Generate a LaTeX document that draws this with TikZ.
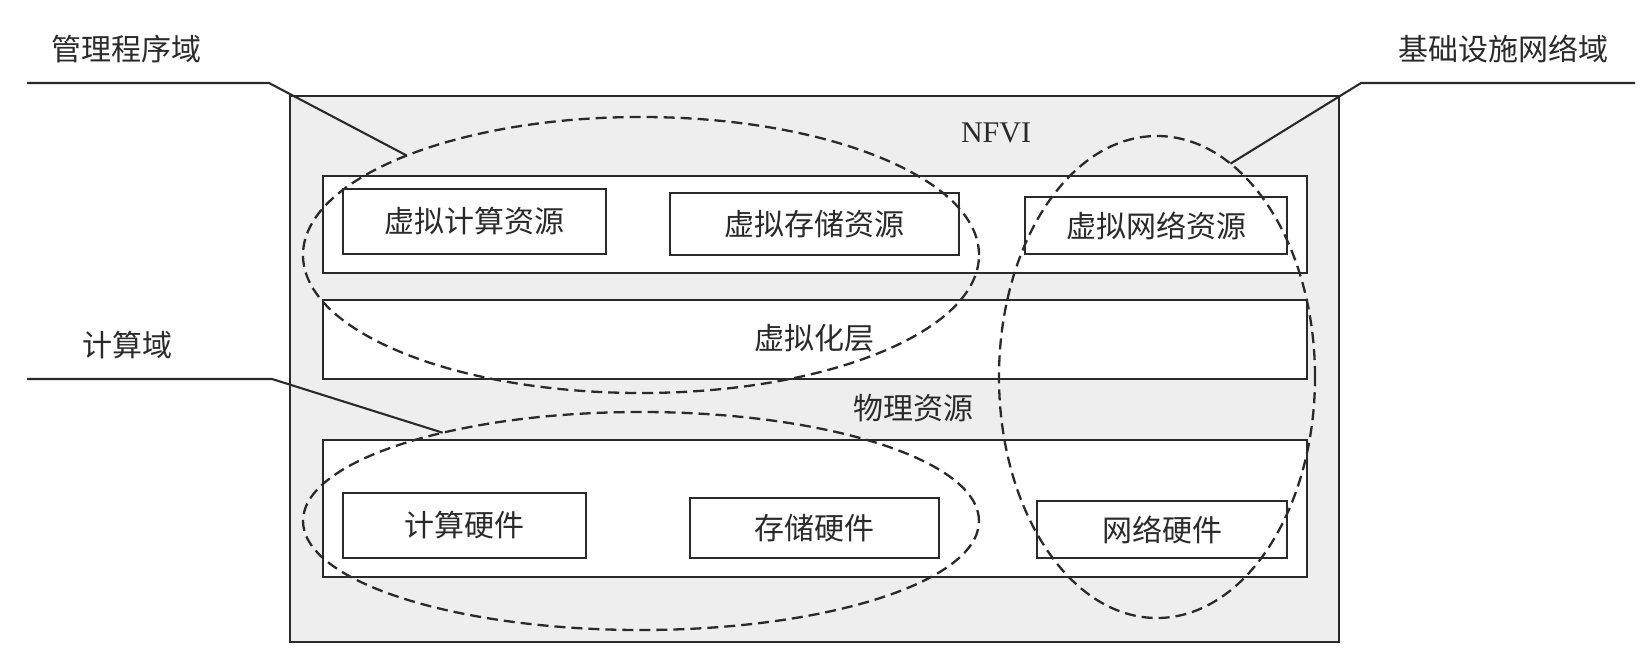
\documentclass[tikz,border=0pt]{standalone}
\usepackage{fontspec}
\setmainfont{Liberation Serif}
\newfontfamily\cjk{Noto Sans CJK SC}
\usetikzlibrary{shapes.geometric}
\definecolor{bggray}{HTML}{EEEEEE}
\definecolor{ink}{HTML}{2A2A2A}
\begin{document}
\begin{tikzpicture}[x=1pt,y=-1pt,
  box/.style={draw=ink, line width=2.1pt, fill=white, rectangle, inner sep=0pt},
  txt/.style={font=\cjk\fontsize{30}{36}\selectfont, text=ink, inner sep=0pt},
  dom/.style={draw=ink, line width=2.3pt, dash pattern=on 11pt off 6pt, ellipse, inner sep=0pt, outer sep=0pt},
  leader/.style={draw=ink, line width=2.1pt}]
\useasboundingbox (0,0) rectangle (1652,650);
% outer NFVI frame
\node[box, fill=bggray, minimum width=1049pt, minimum height=546pt] (nfvi) at (814.5,369) {};
\node[font=\fontsize{30}{36}\selectfont, text=ink, inner sep=0pt] (nfvit) at (996,133) {NFVI};
% rows
\node[box, minimum width=984pt, minimum height=97pt] (vrow) at (815,224.5) {};
\node[box, minimum width=984pt, minimum height=79pt] (vlayer) at (815,339.5) {};
\node[box, minimum width=984pt, minimum height=137pt] (prow) at (815,508.5) {};
\node[txt] (vlayert) at (814,338) {虚拟化层};
\node[txt] (physt) at (913,408) {物理资源};
% virtual resources
\node[box, txt, minimum width=263pt, minimum height=65pt] (vc) at (474.5,221.5) {虚拟计算资源};
\node[box, txt, minimum width=289pt, minimum height=62pt] (vs) at (814.5,224) {虚拟存储资源};
\node[box, txt, minimum width=262pt, minimum height=57pt] (vn) at (1156,225.5) {虚拟网络资源};
% hardware
\node[box, txt, minimum width=243pt, minimum height=65pt] (hc) at (464.5,525.5) {计算硬件};
\node[box, txt, minimum width=249pt, minimum height=60pt] (hs) at (814.5,528) {存储硬件};
\node[box, txt, minimum width=250pt, minimum height=57pt] (hn) at (1162,529.5) {网络硬件};
% domains
\node[dom, minimum width=676pt, minimum height=276pt] (d1) at (641,255) {};
\node[dom, minimum width=676pt, minimum height=218pt] (d3) at (641,521) {};
\node[dom, minimum width=316pt, minimum height=482pt] (d2) at (1157,377) {};
% labels and leaders
\node[txt] (l1) at (126,49) {管理程序域};
\node[txt] (l2) at (1503,49) {基础设施网络域};
\node[txt] (l3) at (127,345) {计算域};
\coordinate (l1a) at (27,83);
\coordinate (l1b) at (269,83);
\coordinate (l2a) at (1635,83);
\coordinate (l2b) at (1361,83);
\coordinate (l3a) at (27,379);
\coordinate (l3b) at (272,379);
\draw[leader] (l1a) -- (l1b) -- (d1.157);
\draw[leader] (l2a) -- (l2b) -- (d2.71);
\draw[leader] (l3a) -- (l3b) -- (d3.156);
\end{tikzpicture}
\end{document}
